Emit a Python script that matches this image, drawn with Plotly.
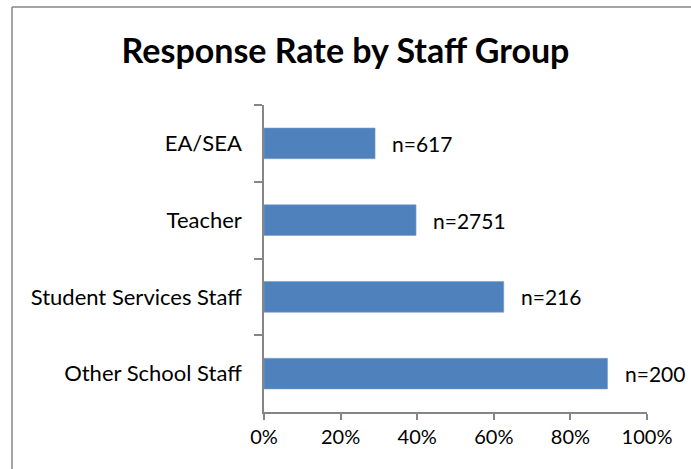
import plotly.graph_objects as go

categories = ["EA/SEA", "Teacher", "Student Services Staff", "Other School Staff"]
response_rate = [0.290, 0.397, 0.626, 0.897]
n_labels = ["n=617", "n=2751", "n=216", "n=200"]
x_tickvals = [0, 0.2, 0.4, 0.6, 0.8, 1.0]
x_ticktext = ["0%", "20%", "40%", "60%", "80%", "100%"]

W, H = 691, 469
L, R, T, B = 264, 44, 105, 57
pw = W - L - R
ph = H - T - B

FONT = "Lato, Carlito, Calibri, sans-serif"

fig = go.Figure()
fig.add_trace(go.Bar(
    y=categories, x=response_rate, orientation="h",
    marker=dict(color="#4F81BD", line=dict(color="#7A9FCF", width=0.6)),
    width=0.4, hoverinfo="skip",
))

for c, v, t in zip(categories, response_rate, n_labels):
    fig.add_annotation(x=v, y=c, text=t, showarrow=False, xanchor="left",
                       xshift=15, font=dict(family=FONT, size=21, color="#000"))

left_x = (12 - L) / pw
top_y = 1 + (T - 7) / ph

fig.update_layout(
    width=W, height=H,
    margin=dict(l=L, r=R, t=T, b=B, pad=0),
    paper_bgcolor="white", plot_bgcolor="white",
    showlegend=False,
    title=dict(text="<b>Response Rate by Staff Group</b>", x=0.5, xanchor="center",
               y=1 - 51 / H, yanchor="middle",
               font=dict(family=FONT, size=34, color="#000")),
    xaxis=dict(range=[0, 1], tickvals=x_tickvals, ticktext=x_ticktext,
               showgrid=False, zeroline=False, showline=True, linecolor="#868686",
               linewidth=1.5, ticks="outside", ticklen=6, tickcolor="#868686",
               tickwidth=1.5, tickfont=dict(family=FONT, size=20, color="#000"),
               fixedrange=True),
    yaxis=dict(categoryorder="array", categoryarray=categories, autorange="reversed",
               tickson="boundaries", showgrid=False, showline=True, linecolor="#868686",
               linewidth=1.5, ticks="outside", ticklen=8, tickcolor="#868686",
               tickwidth=1.5, tickfont=dict(family=FONT, size=22, color="#000"),
               ticklabelstandoff=16, fixedrange=True),
    shapes=[
        dict(type="line", xref="paper", yref="paper",
             x0=left_x, x1=(W + 200 - L) / pw, y0=top_y, y1=top_y,
             line=dict(color="#868686", width=1.5), layer="below"),
        dict(type="line", xref="paper", yref="paper",
             x0=left_x, x1=left_x, y0=-(B + 200) / ph, y1=top_y,
             line=dict(color="#868686", width=1.5), layer="below"),
    ],
)

fig.write_html("out.html")
